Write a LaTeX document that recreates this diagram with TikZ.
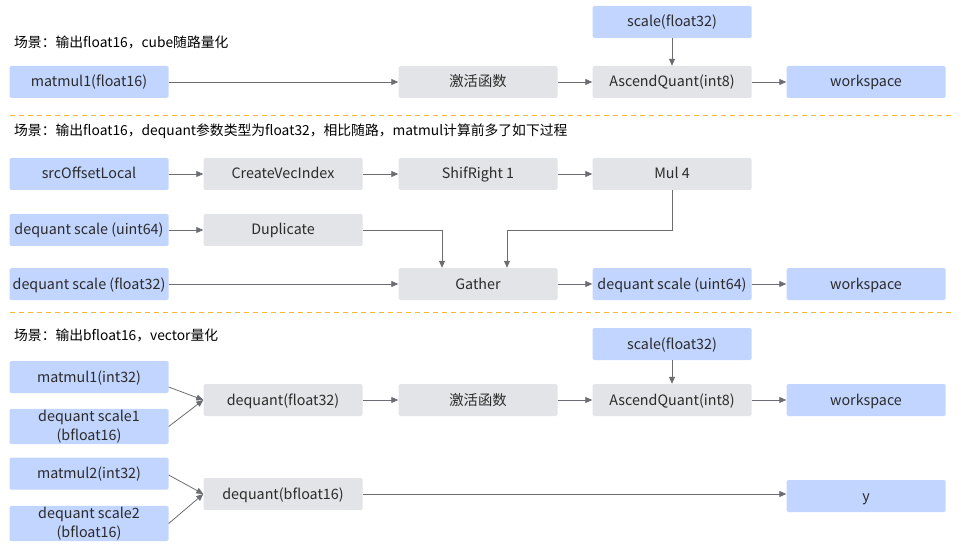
\documentclass[tikz,border=0pt]{standalone}
\usepackage{fontspec}
\setmainfont{Noto Sans CJK SC}
\usetikzlibrary{arrows.meta, positioning}
\definecolor{bluebox}{HTML}{C2D5FF}
\definecolor{graybox}{HTML}{E3E4E7}
\definecolor{linegray}{HTML}{6B6D72}
\definecolor{txtgray}{HTML}{2B2B2B}
\definecolor{sepline}{HTML}{F5B82E}

\tikzset{
  box/.style = {rectangle, rounded corners=1.5pt, minimum width=159pt, minimum height=32pt,
                inner sep=1pt, text=txtgray, font=\fontsize{14.3}{18}\selectfont, align=center,
                text height=10pt, text depth=0pt},
  bbox/.style = {box, fill=bluebox},
  gbox/.style = {box, fill=graybox},
  twoline/.style = {text height=, text depth=, minimum height=33pt},
  title/.style = {anchor=west, inner sep=0pt, text=black, font=\fontsize{13.8}{16}\selectfont},
  sep/.style = {draw=sepline, dash pattern=on 5pt off 4pt, line width=0.8pt},
  link/.style = {draw=linegray, line width=0.8pt, -{Triangle[length=7pt,width=6pt]}},
}

\begin{document}
\begin{tikzpicture}[x=1pt, y=-1pt]
    \useasboundingbox (0,0) rectangle (964,548);

    % scene 1
    \node (t1) [title] at (14,42) {场景：输出float16，cube随路量化};
    \node (sc1) [bbox] at (672,22) {scale(float32)};
    \node (mm1) [bbox] at (89,82) {matmul1(float16)};
    \node (act1) [gbox] at (478,82) {激活函数};
    \node (aq1) [gbox] at (672,82) {AscendQuant(int8)};
    \node (ws1) [bbox] at (866,82) {workspace};

    \draw [sep] (10,115) -- (955,115);

    % scene 2
    \node (t2) [title] at (14,131) {场景：输出float16，dequant参数类型为float32，相比随路，matmul计算前多了如下过程};
    \node (src) [bbox] at (89,174) {srcOffsetLocal};
    \node (cvi) [gbox] at (283,174) {CreateVecIndex};
    \node (shr) [gbox] at (478,174) {ShifRight 1};
    \node (mul) [gbox] at (672,174) {Mul 4};
    \node (dq64) [bbox] at (89,230) {dequant scale (uint64)};
    \node (dup) [gbox] at (283,230) {Duplicate};
    \node (dqf) [bbox] at (89,284) {dequant scale (float32)};
    \node (gt) [gbox] at (478,284) {Gather};
    \node (dq64b) [bbox] at (672,284) {dequant scale (uint64)};
    \node (ws2) [bbox] at (866,284) {workspace};

    \draw [sep] (10,312) -- (955,312);

    % scene 3
    \node (t3) [title] at (14,335) {场景：输出bfloat16，vector量化};
    \node (sc2) [bbox] at (672,344) {scale(float32)};
    \node (mi1) [bbox] at (89,377) {matmul1(int32)};
    \node (dqs1) [bbox, twoline] at (89,426.5) {dequant scale1\\[1pt](bfloat16)};
    \node (dq32) [gbox] at (283,400) {dequant(float32)};
    \node (act2) [gbox] at (478,400) {激活函数};
    \node (aq2) [gbox] at (672,400) {AscendQuant(int8)};
    \node (ws3) [bbox] at (866,400) {workspace};
    \node (mi2) [bbox] at (89,473.5) {matmul2(int32)};
    \node (dqs2) [bbox, twoline] at (89,523.5) {dequant scale2\\[1pt](bfloat16)};
    \node (dqb) [gbox] at (283,494) {dequant(bfloat16)};
    \node (y) [bbox] at (866,496) {y};

    \path [every edge/.style=link]
      (mm1) edge (act1)
      (act1) edge (aq1)
      (sc1) edge (aq1)
      (aq1) edge (ws1)
      (src) edge (cvi)
      (cvi) edge (shr)
      (shr) edge (mul)
      (dq64) edge (dup)
      (dqf) edge (gt)
      (gt) edge (dq64b)
      (dq64b) edge (ws2)
      ([yshift=-10pt]mi1.east) edge (dq32.west)
      (dqs1.east) edge (dq32.west)
      (dq32) edge (act2)
      (act2) edge (aq2)
      (sc2) edge (aq2)
      (aq2) edge (ws3)
      ([yshift=-1.5pt]mi2.east) edge (dqb.west)
      (dqs2.east) edge (dqb.west)
      (dqb) edge (y.west |- dqb);
    \draw [link] (dup.east) -| ([xshift=-36pt]gt.north);
    \draw [link] (mul.south) -- ++(0,40) -| ([xshift=29pt]gt.north);
\end{tikzpicture}
\end{document}
